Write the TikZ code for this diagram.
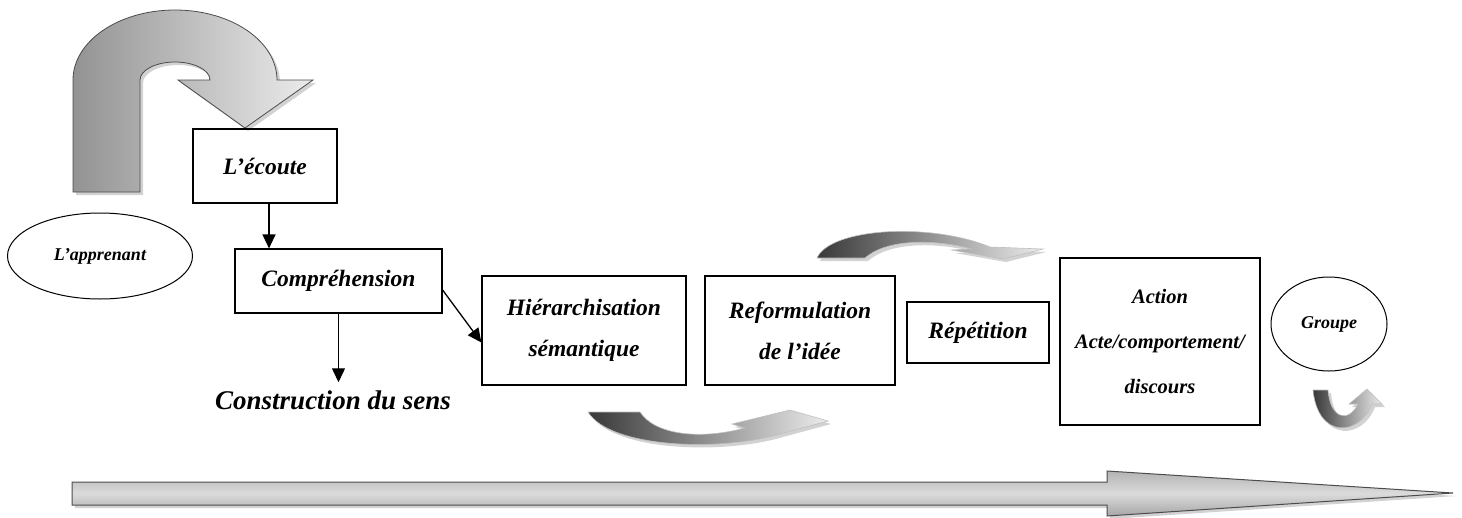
\documentclass[tikz,border=0pt]{standalone}
\usepackage{fontspec}
\setmainfont{Liberation Serif}
\usetikzlibrary{arrows.meta,shapes.geometric,shadows}

\begin{document}
\begin{tikzpicture}[x=1pt,y=-1pt,
 box/.style={draw,line width=1.2pt,rectangle,align=center,font=\fontsize{23.5}{41}\selectfont\bfseries\itshape, inner sep=0pt},
 oval/.style={draw, line width=1pt, ellipse, inner sep=0pt, font=\fontsize{18}{20}\selectfont\bfseries\itshape},
 conn/.style={line width=1.3pt,-{Triangle[length=14pt,width=13pt]}},
 fatshadow/.style={drop shadow={shadow xshift=3pt,shadow yshift=-3pt,fill=gray!35,opacity=1}},
 fat/.style={draw=gray!60!black, line width=0.8pt, left color=gray!85, right color=gray!15, fatshadow},
 fatdark/.style={draw=gray!50, line width=0.6pt, left color=black!78, right color=gray!15, fatshadow}
]
\useasboundingbox (0,0) rectangle (1462,517);

% big U-turn arrow
\path[fat] (73,192) -- (73,80) .. controls (73,41) and (119,10) .. (175,10)
  .. controls (231,10) and (277,41) .. (277,80) -- (313,80) -- (245,128) -- (178,80) -- (210,80)
  .. controls (210,70) and (194,62) .. (175,62) .. controls (156,62) and (140,70) .. (140,80)
  -- (140,192) -- cycle;

% top curved arrow
\path[fatdark] (817,258) .. controls (830,228) and (930,222) .. (990,247) -- (1043,249) -- (1003,259)
  -- (952,250) -- (972,249) .. controls (930,238) and (885,240) .. (865,258) -- cycle;

% bottom curved arrow
\path[fatdark] (588,412) -- (640,412) .. controls (655,435) and (700,440) .. (745,428) -- (732,424)
  -- (790,410) -- (828,421) -- (780,434) .. controls (720,452) and (610,448) .. (588,412) -- cycle;

% small U arrow
\path[fatdark] (1313,390) -- (1328,390) .. controls (1330,418) and (1348,424) .. (1358,404)
  -- (1349,404) -- (1367,389) -- (1382,404) -- (1372,404) .. controls (1360,436) and (1318,440) .. (1313,390) -- cycle;

% big bottom arrow
\path[draw=gray!60!black, line width=1pt, top color=gray!60, bottom color=gray!70, middle color=gray!28, fatshadow]
  (72,482) -- (1107,482) -- (1107,471) -- (1453,493) -- (1107,516) -- (1107,505) -- (72,505) -- cycle;

% nodes
\node[box, minimum width=144, minimum height=74] (ecoute) at (265,166) {L’écoute};
\node[box, minimum width=207, minimum height=64] (comp) at (338.5,281) {Compréhension};
\node[font=\fontsize{27}{30}\selectfont\bfseries\itshape, inner sep=0pt] (sens) at (333,400) {Construction du sens};
\node[oval, minimum width=185, minimum height=86] (app) at (100,256) {L’apprenant};
\node[box, minimum width=204, minimum height=109] (hier) at (584,330.5) {Hiérarchisation\\sémantique};
\node[box, minimum width=190, minimum height=109] (reform) at (800,330.5) {Reformulation\\de l’idée};
\node[box, minimum width=142, minimum height=61] (rep) at (978,332.5) {Répétition};
\node[box, minimum width=200, minimum height=167, font=\fontsize{20.5}{45}\selectfont\bfseries\itshape] (action) at (1160,341.5) {Action\\Acte/comportement/\\discours};
\node[oval, minimum width=116, minimum height=94] (groupe) at (1329,324) {Groupe};

% connectors
\draw[conn] ([xshift=4pt]ecoute.south) -- ([xshift=4pt]ecoute.south |- comp.north);
\draw[conn] (comp.south) -- ([yshift=8pt]comp.south |- sens.north);
\draw[conn] ([yshift=-9pt]comp.east) -- ([yshift=-12pt]hier.west);
\end{tikzpicture}
\end{document}
